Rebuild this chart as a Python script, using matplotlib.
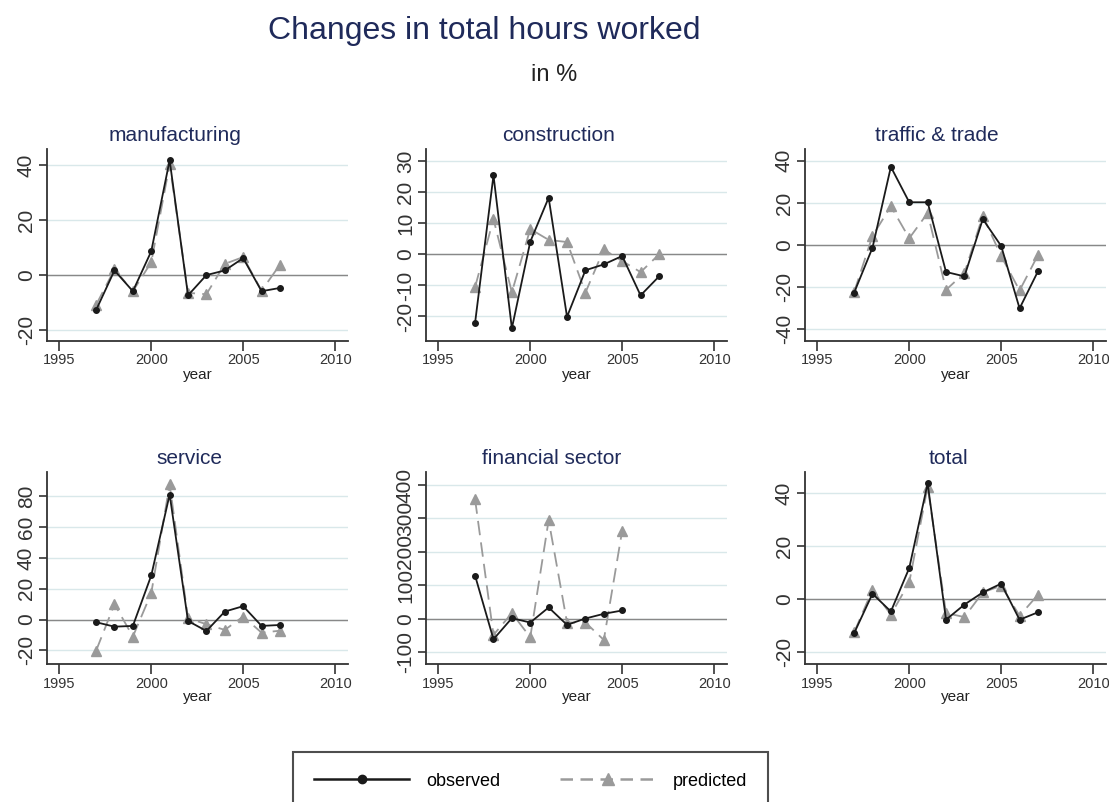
import numpy as np
import matplotlib
matplotlib.use("Agg")
import matplotlib.pyplot as plt
from matplotlib.lines import Line2D

plt.rcParams['font.family'] = ['Liberation Sans Narrow', 'Liberation Sans', 'DejaVu Sans']

# ---- data (percent changes) ----
years = [1997, 1998, 1999, 2000, 2001, 2002, 2003, 2004, 2005, 2006, 2007]
fin_years = years[:9]

manuf_obs = [-12.9, 1.6, -6.0, 8.6, 41.9, -7.5, -0.1, 1.6, 6.1, -6.0, -4.8]
manuf_pred = [-11.0, 2.0, -6.0, 4.6, 40.4, -6.6, -7.1, 4.0, 6.5, -5.8, 3.7]

constr_obs = [-22.0, 25.5, -23.8, 4.1, 18.3, -20.1, -5.1, -3.2, -0.5, -13.2, -7.1]
constr_pred = [-10.5, 11.4, -12.2, 8.2, 4.7, 4.0, -12.3, 1.6, -2.1, -5.7, 0.0]

traffic_obs = [-22.7, -1.3, 37.1, 20.3, 20.3, -12.8, -14.9, 12.3, -0.5, -30.1, -12.5]
traffic_pred = [-22.4, 4.3, 18.4, 3.2, 15.2, -21.3, -13.3, 13.9, -5.3, -21.6, -4.8]

service_obs = [-1.7, -4.6, -4.1, 28.6, 81.1, -0.9, -7.4, 5.2, 8.7, -4.1, -3.5]
service_pred = [-20.2, 10.0, -11.0, 17.1, 87.6, 0.9, -3.0, -6.7, 2.0, -8.5, -7.2]

fin_obs = [129, -61, 2, -11, 34, -18, 1, 15, 25]
fin_pred = [357, -48, 17, -55, 295, -11, -11, -63, 264]

total_obs = [-12.9, 2.0, -4.7, 11.7, 43.6, -7.8, -2.1, 2.5, 5.8, -7.8, -5.0]
total_pred = [-12.6, 3.5, -5.9, 6.3, 42.4, -5.3, -6.8, 2.5, 5.0, -6.3, 1.6]

panels = [
    ("manufacturing", years, manuf_obs, manuf_pred, [-20, 0, 20, 40], (-24.2, 46)),
    ("construction", years, constr_obs, constr_pred, [-20, -10, 0, 10, 20, 30], (-27.9, 34)),
    ("traffic & trade", years, traffic_obs, traffic_pred, [-40, -20, 0, 20, 40], (-45.6, 45.6)),
    ("service", years, service_obs, service_pred, [-20, 0, 20, 40, 60, 80], (-28.8, 95.7)),
    ("financial sector", fin_years, fin_obs, fin_pred, [-100, 0, 100, 200, 300, 400], (-135, 439)),
    ("total", years, total_obs, total_pred, [-20, 0, 20, 40], (-24.5, 47.9)),
]

navy = "#1f2a5a"
obs_col = "#1a1a1a"
pred_col = "#9a9a9a"
grid_col = "#d9e8ea"

W, H = 1109, 802
fig = plt.figure(figsize=(W / 100, H / 100), dpi=100)

# layout in pixels
lefts = [47, 426, 805]
tops = [149, 472]
aw, ah = 301, 192
title_shift = [-22, -18, -19, -8, -25, -7]   # titles sit a bit left of centre

fig.text(484 / W, 1 - 31 / H, "Changes in total hours worked", ha="center", va="center",
         fontsize=23, color=navy)
fig.text(0.5, 1 - 75 / H, "in %", ha="center", va="center", fontsize=17, color="#222222")

for i, (title, yrs, obs, pred, yt, ylim) in enumerate(panels):
    r, c = divmod(i, 3)
    ax = fig.add_axes([lefts[c] / W, 1 - (tops[r] + ah) / H, aw / W, ah / H])
    for v in yt:
        ax.axhline(v, color=grid_col, lw=1.0, zorder=0)
    ax.axhline(0, color="#888888", lw=1.0, zorder=1)
    ax.plot(yrs, obs, color=obs_col, lw=1.3, marker="o", ms=4, zorder=3)
    ax.plot(yrs, pred, color=pred_col, lw=1.3, dashes=(8, 4), marker="^", ms=7,
            zorder=2)
    ax.set_xlim(1994.33, 2010.7)
    ax.set_ylim(*ylim)
    ax.set_xticks([1995, 2000, 2005, 2010])
    ax.set_yticks(yt)
    ax.set_yticklabels([str(v) for v in yt], rotation=90, va="center",
                       family=["Liberation Sans", "DejaVu Sans"], fontsize=15,
                       color="#333333")
    ax.tick_params(axis="x", labelsize=10.5, colors="#333333", length=7, width=1.2,
                   pad=2)
    ax.tick_params(axis="y", length=6, width=1.2, colors="#333333", pad=2)
    for s in ["top", "right"]:
        ax.spines[s].set_visible(False)
    for s in ["left", "bottom"]:
        ax.spines[s].set_color("#333333")
        ax.spines[s].set_linewidth(1.3)
    ax.set_xlabel("year", fontsize=11, color="#222222", labelpad=0)
    ax.set_title(title, fontsize=15, color=navy, pad=6, x=0.5 + title_shift[i] / aw)

handles = [
    Line2D([], [], color=obs_col, lw=1.8, marker="o", ms=6),
    Line2D([], [], color=pred_col, lw=1.8, dashes=(5, 3), marker="^", ms=8),
]
leg = fig.legend(handles, ["observed", "predicted"], loc="upper left",
                 bbox_to_anchor=(293 / W, 1 - 752 / H), borderaxespad=0,
                 ncol=2, fontsize=13, handlelength=5.3, columnspacing=3.3,
                 borderpad=1.15, handletextpad=0.95, frameon=True, fancybox=False)
leg.get_frame().set_edgecolor("#222222")
leg.get_frame().set_linewidth(1.5)

fig.savefig("out.png", dpi=100)
